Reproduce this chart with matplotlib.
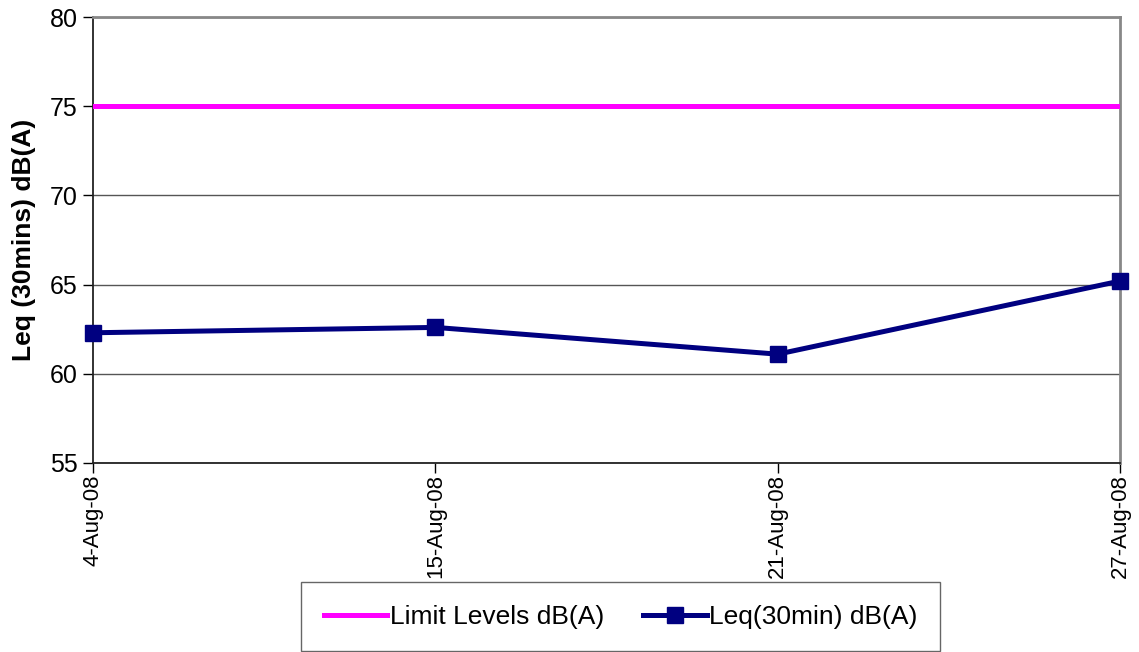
import matplotlib.pyplot as plt
import numpy as np

plt.rcParams['font.family'] = ['Liberation Sans', 'DejaVu Sans']

dates = ['4-Aug-08', '15-Aug-08', '21-Aug-08', '27-Aug-08']
leq = [62.3, 62.6, 61.1, 65.2]
limit = [75, 75, 75, 75]

fig = plt.figure(figsize=(11.39, 6.52), dpi=100)
ax = fig.add_axes([0.0817, 0.2899, 0.9017, 0.684])

x = np.arange(len(dates))
ax.plot(x, limit, color='#FF00FF', linewidth=3.6, label='Limit Levels dB(A)', zorder=3)
ax.plot(x, leq, color='#000080', linewidth=3.6, marker='s', markersize=12,
        label='Leq(30min) dB(A)', zorder=4, clip_on=False)

ax.set_xlim(0, len(dates) - 1)
ax.set_ylim(55, 80)
ax.set_yticks(np.arange(55, 81, 5))
ax.set_xticks(x)
ax.set_xticklabels(dates, rotation=90, fontsize=16)
ax.tick_params(axis='y', labelsize=18, length=7, width=1, pad=4)
ax.tick_params(axis='x', length=7, width=1, pad=1)
ax.yaxis.grid(True, color='#555555', linewidth=1)
ax.set_axisbelow(True)

for side in ['left', 'bottom']:
    ax.spines[side].set_color('#222222')
    ax.spines[side].set_linewidth(1.3)
for side in ['top', 'right']:
    ax.spines[side].set_color('#888888')
    ax.spines[side].set_linewidth(2)

ax.set_ylabel('Leq (30mins) dB(A)', fontsize=19, fontweight='bold', labelpad=10)

leg = fig.legend(loc='center', bbox_to_anchor=(0.545, 0.054), ncol=2, fontsize=19,
                 fancybox=False, edgecolor='#666666', framealpha=1,
                 handlelength=2.4, columnspacing=1.5, handletextpad=0.1,
                 borderpad=0.85)
leg.get_frame().set_linewidth(1)

fig.savefig('out.png', dpi=100)
